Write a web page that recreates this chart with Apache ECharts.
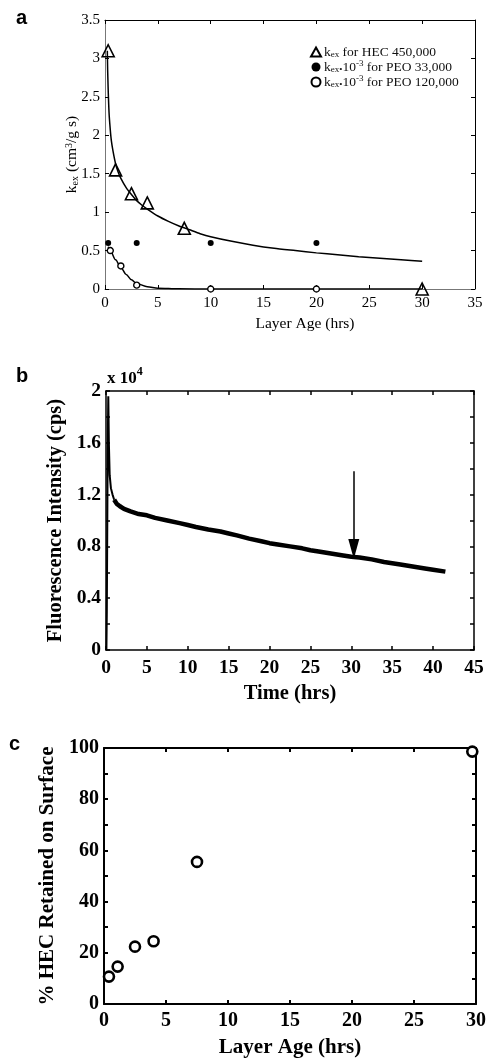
<!DOCTYPE html>
<html>
<head>
<meta charset="utf-8">
<script src="https://cdn.jsdelivr.net/npm/echarts@6/dist/echarts.min.js"></script>
<style>
  html, body { margin: 0; padding: 0; background: #fff; }
  #chart { width: 491px; height: 1059px; }
</style>
</head>
<body>
<div id="chart"></div>
<script>
// panel a: exchange rate constants vs layer age
var hecAge = [0.3, 1.0, 2.5, 4.0, 7.5, 30.0];
var hecKex = [3.1, 1.55, 1.24, 1.12, 0.79, 0.0];
var peo33Age = [0.3, 3.0, 10.0, 20.0];
var peo33Kex = [0.6, 0.6, 0.6, 0.6];
var peo120Age = [0.5, 1.5, 3.0, 10.0, 20.0];
var peo120Kex = [0.5, 0.3, 0.05, 0.0, 0.0];
// fit curves
var hecFitAge = [0.22, 0.25, 0.3, 0.35, 0.4, 0.5, 0.6, 0.75, 1, 1.25, 1.5, 2, 2.5, 3, 3.5, 4, 5, 6, 7, 8, 9, 10, 12, 14, 16, 18, 20, 22, 24, 26, 28, 30];
var hecFitKex = [3.1, 2.85, 2.6, 2.4, 2.25, 2.07, 1.93, 1.8, 1.63, 1.52, 1.44, 1.32, 1.23, 1.15, 1.09, 1.04, 0.95, 0.88, 0.82, 0.77, 0.72, 0.68, 0.62, 0.57, 0.53, 0.5, 0.47, 0.445, 0.42, 0.4, 0.38, 0.36];
var peoFitAge = [0.3, 0.5, 1, 1.5, 2, 2.5, 3, 4, 5, 7, 10, 20, 30];
var peoFitKex = [0.55, 0.5, 0.38, 0.28, 0.19, 0.12, 0.07, 0.03, 0.01, 0.002, 0, 0, 0];

// panel b: fluorescence trace (x 10^4 cps)
var spikeHrs = [0.05, 0.1, 0.15, 0.2, 0.28, 0.35, 0.45, 0.6, 0.8, 1.0];
var spikeVal = [0.0, 0.3, 0.9, 1.5, 1.96, 1.6, 1.35, 1.25, 1.2, 1.16];
var timeHrs = [1.0, 1.3, 1.7, 2.2, 3, 4, 5, 6, 7.5, 9, 10, 11, 12.5, 14, 15, 16, 17.5, 19, 20, 21, 22.5, 24, 25, 26, 27.5, 29, 30, 31, 32.5, 34, 35, 36, 37.5, 39, 40, 41.5];
var intensity = [1.16, 1.13, 1.11, 1.09, 1.07, 1.05, 1.04, 1.02, 1.0, 0.98, 0.965, 0.95, 0.93, 0.915, 0.9, 0.885, 0.86, 0.84, 0.825, 0.815, 0.8, 0.785, 0.77, 0.76, 0.745, 0.73, 0.72, 0.715, 0.70, 0.68, 0.67, 0.66, 0.645, 0.63, 0.62, 0.605];
var arrowTime = 30.3;
var arrowFrom = 1.38;
var arrowTo = 0.78;

// panel c: % HEC retained
var retAge = [0.4, 1.1, 2.5, 4.0, 7.5, 29.7];
var retPct = [10.7, 14.6, 22.4, 24.5, 55.5, 98.6];

function pairs(xs, ys) {
  var out = [];
  for (var i = 0; i < xs.length; i++) out.push([xs[i], ys[i]]);
  return out;
}

var serif = "Liberation Serif";
var richA = {
  n: { fontFamily: serif, fontSize: 13.5, lineHeight: 15, color: "#111" },
  sub: { fontFamily: serif, fontSize: 9, lineHeight: 9, verticalAlign: "bottom", color: "#111" },
  sup: { fontFamily: serif, fontSize: 9, lineHeight: 9, verticalAlign: "top", color: "#111" }
};

// builds the 4 box axes of one panel
function boxAxes(grid, xmin, xmax, xint, ymin, ymax, yint, font, bold, lw, xname, yname, opts) {
  var lab = { fontFamily: serif, fontSize: font, fontWeight: bold ? "bold" : "normal", color: "#000" };
  var near = opts.nearColor || "#000";
  var line = { show: true, onZero: false, lineStyle: { color: "#000", width: lw } };
  var nearLine = { show: true, onZero: false, lineStyle: { color: near, width: lw } };
  var tick = { show: true, inside: true, length: 4, lineStyle: { color: "#000", width: lw } };
  var minor = opts.minor ? { show: true, splitNumber: 2, length: 4, lineStyle: { color: "#000", width: lw } } : { show: false };
  var xs = [
    { gridIndex: grid, type: "value", min: xmin, max: xmax, interval: xint, position: "bottom",
      axisLine: nearLine, axisTick: tick, splitLine: { show: false },
      axisLabel: Object.assign({ margin: opts.xMargin }, lab),
      name: xname, nameLocation: "middle", nameGap: opts.xGap, nameMoveOverlap: false,
      nameTextStyle: Object.assign({}, lab, { fontSize: opts.nameSize, padding: opts.xPad || 0 }) },
    { gridIndex: grid, type: "value", min: xmin, max: xmax, interval: xint, position: "top",
      axisLine: line, axisTick: tick, splitLine: { show: false }, axisLabel: { show: false } }
  ];
  var ys = [
    { gridIndex: grid, type: "value", min: ymin, max: ymax, interval: yint, position: "left",
      axisLine: nearLine, axisTick: tick, minorTick: minor, splitLine: { show: false }, minorSplitLine: { show: false },
      axisLabel: Object.assign({ margin: opts.yMargin, formatter: opts.yFmt }, lab),
      name: yname, nameLocation: "middle", nameGap: opts.yGap, nameMoveOverlap: false,
      nameTextStyle: Object.assign({}, lab, { fontSize: opts.nameSize, rich: opts.rich }) },
    { gridIndex: grid, type: "value", min: ymin, max: ymax, interval: yint, position: "right",
      axisLine: line, axisTick: tick, minorTick: minor, splitLine: { show: false }, axisLabel: { show: false } }
  ];
  return { x: xs, y: ys };
}

var axA = boxAxes(0, 0, 35, 5, 0, 3.5, 0.5, 15, false, 1, "Layer Age (hrs)", "k{sub|ex} (cm{sup|3}/g s)",
  { xMargin: 7, yMargin: 5, xGap: 27, yGap: 25, nameSize: 15.5, minor: false, nearColor: "#777",
    xPad: [0, 0, 0, 30],
    yFmt: function (v) { return String(v); },
    rich: {
      sub: { fontFamily: serif, fontSize: 10, verticalAlign: "bottom", lineHeight: 10 },
      sup: { fontFamily: serif, fontSize: 10, verticalAlign: "top", lineHeight: 10 }
    } });
var axB = boxAxes(1, 0, 45, 5, 0, 2, 0.4, 19.5, true, 1.5, "Time (hrs)", "Fluorescence Intensity (cps)",
  { xMargin: 8, yMargin: 5, xGap: 33, yGap: 40, nameSize: 20.5, minor: true,
    yFmt: function (v) { return v === 0 || v === 2 ? String(v) : v.toFixed(1); } });
var axC = boxAxes(2, 0, 30, 5, 0, 100, 20, 20, true, 2, "Layer Age (hrs)", "% HEC Retained on Surface",
  { xMargin: 7, yMargin: 5, xGap: 33, yGap: 46, nameSize: 21, minor: true,
    yFmt: function (v) { return String(v); } });

var legendNames = {
  hec: "{n|k}{sub|ex}{n| for HEC 450,000}",
  peo33: "{n|k}{sub|ex\u2022}{n|10}{sup|-3}{n| for PEO 33,000}",
  peo120: "{n|k}{sub|ex\u2022}{n|10}{sup|-3}{n| for PEO 120,000}"
};

var chart = echarts.init(document.getElementById("chart"));
chart.setOption({
  backgroundColor: "#fff",
  animation: false,
  grid: [
    { left: 105, top: 20, width: 370, height: 269 },
    { left: 106, top: 391, width: 368, height: 259 },
    { left: 104, top: 748, width: 372, height: 258 }
  ],
  xAxis: axA.x.concat(axB.x, axC.x),
  yAxis: axA.y.concat(axB.y, axC.y),
  legend: {
    orient: "vertical",
    left: 305,
    top: 40,
    itemGap: 0,
    itemWidth: 10,
    itemHeight: 9,
    data: ["hec", "peo33", "peo120"],
    formatter: function (name) { return legendNames[name]; },
    textStyle: { rich: richA, padding: [0, 0, 0, -2] }
  },
  graphic: [
    { type: "text", left: 16, top: 8, style: { text: "a", font: "bold 20px Liberation Sans", fill: "#000" } },
    { type: "text", left: 16, top: 366, style: { text: "b", font: "bold 20px Liberation Sans", fill: "#000" } },
    { type: "text", left: 9, top: 734, style: { text: "c", font: "bold 20px Liberation Sans", fill: "#000" } },
    { type: "text", left: 107, top: 366, style: {
        text: "{b|x 10}{s|4}",
        rich: {
          b: { fontFamily: serif, fontWeight: "bold", fontSize: 17, lineHeight: 21, verticalAlign: "bottom" },
          s: { fontFamily: serif, fontWeight: "bold", fontSize: 12, lineHeight: 12, verticalAlign: "top" }
        } } }
  ],
  series: [
    { type: "line", xAxisIndex: 0, yAxisIndex: 0, data: pairs(hecFitAge, hecFitKex), smooth: 0.2,
      showSymbol: false, lineStyle: { color: "#000", width: 1.5 }, z: 2 },
    { type: "line", xAxisIndex: 0, yAxisIndex: 0, data: pairs(peoFitAge, peoFitKex), smooth: 0.3, smoothMonotone: "x",
      showSymbol: false, lineStyle: { color: "#000", width: 1.5 }, z: 2 },
    { name: "hec", type: "scatter", xAxisIndex: 0, yAxisIndex: 0, data: pairs(hecAge, hecKex), symbol: "triangle", symbolSize: 12,
      itemStyle: { color: "rgba(255,255,255,0)", borderColor: "#000", borderWidth: 1.6, opacity: 1 }, z: 3 },
    { name: "peo33", type: "scatter", xAxisIndex: 0, yAxisIndex: 0, data: pairs(peo33Age, peo33Kex), symbol: "circle", symbolSize: 6,
      itemStyle: { color: "#000", opacity: 1 }, z: 3 },
    { name: "peo120", type: "scatter", xAxisIndex: 0, yAxisIndex: 0, data: pairs(peo120Age, peo120Kex), symbol: "circle", symbolSize: 6,
      itemStyle: { color: "#fff", borderColor: "#000", borderWidth: 1.4, opacity: 1 }, z: 3 },
    { type: "line", xAxisIndex: 2, yAxisIndex: 2, data: pairs(spikeHrs, spikeVal), showSymbol: false,
      lineStyle: { color: "#000", width: 2 } },
    { type: "line", xAxisIndex: 2, yAxisIndex: 2, data: pairs(timeHrs, intensity), showSymbol: false,
      lineStyle: { color: "#000", width: 4.5 },
      markLine: {
        silent: true, symbol: ["none", "triangle"], symbolSize: [11, 20], symbolRotate: 180,
        lineStyle: { color: "#000", width: 1.5, type: "solid" }, label: { show: false },
        data: [[{ coord: [arrowTime, arrowFrom] }, { coord: [arrowTime, arrowTo] }]]
      } },
    { type: "scatter", xAxisIndex: 4, yAxisIndex: 4, data: pairs(retAge, retPct), symbol: "circle", symbolSize: 10,
      itemStyle: { color: "#fff", borderColor: "#000", borderWidth: 2.6, opacity: 1 } }
  ]
});
</script>
</body>
</html>
